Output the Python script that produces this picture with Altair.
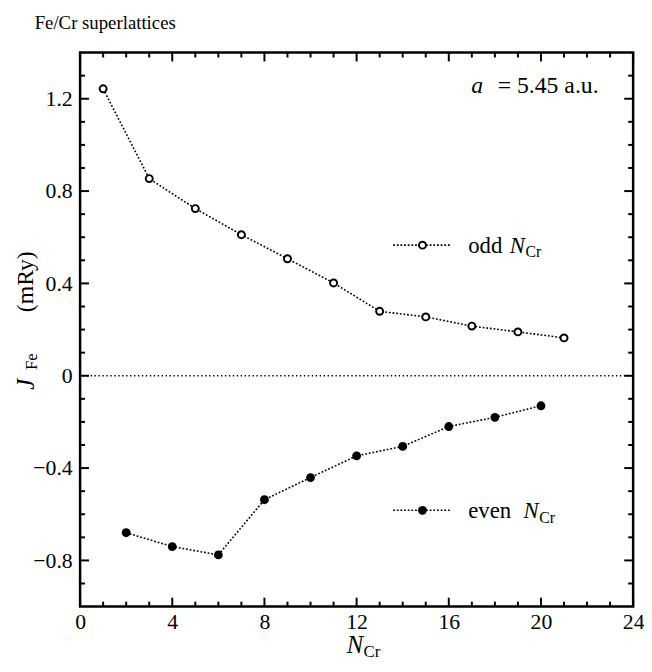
import altair as alt
import pandas as pd

SERIF = "Liberation Serif, Times New Roman, DejaVu Serif, serif"

# ---- data ----
odd_n = [1, 3, 5, 7, 9, 11, 13, 15, 17, 19, 21]
odd_j = [1.243, 0.854, 0.724, 0.611, 0.507, 0.402, 0.279, 0.255, 0.215, 0.190, 0.164]
even_n = [2, 4, 6, 8, 10, 12, 14, 16, 18, 20]
even_j = [-0.680, -0.740, -0.776, -0.537, -0.441, -0.347, -0.306, -0.220, -0.180, -0.130]

x_major = [0, 4, 8, 12, 16, 20, 24]
x_minor = [1, 2, 3, 5, 6, 7, 9, 10, 11, 13, 14, 15, 17, 18, 19, 21, 22, 23]
y_major = [-0.8, -0.4, 0.0, 0.4, 0.8, 1.2]
y_minor = [-0.9, -0.7, -0.6, -0.5, -0.3, -0.2, -0.1, 0.1, 0.2, 0.3, 0.5, 0.6, 0.7,
           0.9, 1.0, 1.1, 1.3]

W, H = 560, 561
MAJ, MIN = 9, 5

odd = pd.DataFrame({"N": odd_n, "J": odd_j})
even = pd.DataFrame({"N": even_n, "J": even_j})

xs = alt.Scale(domain=[0, 24], nice=False, zero=False)
ys = alt.Scale(domain=[-1.0, 1.4], nice=False, zero=False)

ax_x = alt.Axis(orient="bottom", values=x_major, ticks=False, domain=False, grid=False,
                labelFont=SERIF, labelFontSize=22, labelColor="black", labelPadding=5,
                labelFlush=False, format="d", title="")
ax_y = alt.Axis(orient="left", values=y_major, ticks=False, domain=False, grid=False,
                labelFont=SERIF, labelFontSize=22, labelColor="black", labelPadding=8,
                labelExpr="datum.value == 0 ? '0' : format(datum.value, '.1f')", title="")

DASH = [1.8, 1.9]

odd_line = alt.Chart(odd).mark_line(color="black", strokeWidth=1.6, strokeDash=DASH).encode(
    x=alt.X("N:Q", scale=xs, axis=ax_x),
    y=alt.Y("J:Q", scale=ys, axis=ax_y),
)
odd_pts = alt.Chart(odd).mark_point(shape="circle", filled=True, fill="white", stroke="black",
                                    strokeWidth=2, size=50, opacity=1).encode(
    x=alt.X("N:Q", scale=xs), y=alt.Y("J:Q", scale=ys))
even_line = alt.Chart(even).mark_line(color="black", strokeWidth=1.6, strokeDash=DASH).encode(
    x=alt.X("N:Q", scale=xs), y=alt.Y("J:Q", scale=ys))
even_pts = alt.Chart(even).mark_point(shape="circle", filled=True, color="black", size=80, opacity=1).encode(
    x=alt.X("N:Q", scale=xs), y=alt.Y("J:Q", scale=ys))
zero = alt.Chart(pd.DataFrame({"J": [0.0]})).mark_rule(color="black", strokeWidth=1.4, strokeDash=[1.4, 2.6]).encode(
    y=alt.Y("J:Q", scale=ys))

# inward tick marks on all four sides, drawn as ranged rules through the scales
PX_X = 24 / W
PX_Y = 2.4 / H


def xticks(vals, length):
    d = pd.DataFrame({"N": vals, "b0": [-1.0] * len(vals), "b1": [-1.0 + length * PX_Y] * len(vals),
                      "t0": [1.4] * len(vals), "t1": [1.4 - length * PX_Y] * len(vals)})
    bottom = alt.Chart(d).mark_rule(color="black", strokeWidth=2).encode(
        x=alt.X("N:Q", scale=xs), y=alt.Y("b0:Q", scale=ys), y2="b1:Q")
    top = alt.Chart(d).mark_rule(color="black", strokeWidth=2).encode(
        x=alt.X("N:Q", scale=xs), y=alt.Y("t0:Q", scale=ys), y2="t1:Q")
    return [bottom, top]


def yticks(vals, length):
    d = pd.DataFrame({"J": vals, "l0": [0.0] * len(vals), "l1": [length * PX_X] * len(vals),
                      "r0": [24.0] * len(vals), "r1": [24.0 - length * PX_X] * len(vals)})
    left = alt.Chart(d).mark_rule(color="black", strokeWidth=2).encode(
        y=alt.Y("J:Q", scale=ys), x=alt.X("l0:Q", scale=xs), x2="l1:Q")
    right = alt.Chart(d).mark_rule(color="black", strokeWidth=2).encode(
        y=alt.Y("J:Q", scale=ys), x=alt.X("r0:Q", scale=xs), x2="r1:Q")
    return [left, right]


ticks = xticks(x_major, MAJ) + xticks(x_minor, MIN) + yticks(y_major, MAJ) + yticks(y_minor, MIN)

one = alt.Data(values=[{}])


def txt(s, x, y, size=22, style="normal", angle=0, align="left", baseline="alphabetic"):
    return alt.Chart(one).mark_text(text=s, font=SERIF, fontSize=size, fontStyle=style, angle=angle,
                                    align=align, baseline=baseline, color="black").encode(
        x=alt.value(x), y=alt.value(y))


def leg_line(y):
    return alt.Chart(one).mark_rule(color="black", strokeWidth=1.6, strokeDash=DASH).encode(
        x=alt.value(317), x2=alt.value(376), y=alt.value(y))


leg_odd_pt = alt.Chart(one).mark_point(shape="circle", filled=True, fill="white", stroke="black",
                                       strokeWidth=2, size=50, opacity=1).encode(
    x=alt.value(346.7), y=alt.value(195))
leg_even_pt = alt.Chart(one).mark_point(shape="circle", filled=True, color="black", size=80, opacity=1).encode(
    x=alt.value(346.7), y=alt.value(463.5))

decor = [
    txt("Fe/Cr  superlattices", -46, -24, size=19),
    txt("a", 396, 41, size=24, style="italic"),
    txt("= 5.45   a.u.", 525, 41, size=24, align="right"),
    leg_line(195), leg_odd_pt,
    txt("odd", 393, 202.5, size=23), txt("N", 435, 202.5, size=23, style="italic"),
    txt("Cr", 451, 207.5, size=16),
    leg_line(463.5), leg_even_pt,
    txt("even", 393, 471, size=23), txt("N", 449, 471, size=23, style="italic"),
    txt("Cr", 465, 476, size=16),
    txt("N", 270, 608, size=25, style="italic"), txt("Cr", 287, 612, size=17),
    txt("J", -55, 336, size=25, style="italic", angle=270, align="center", baseline="middle"),
    txt("Fe", -49, 313, size=17, angle=270, align="center", baseline="middle"),
    txt("(mRy)", -55, 232, size=24, angle=270, align="center", baseline="middle"),
]

chart = alt.layer(*ticks, odd_line, odd_pts, even_line, even_pts, zero, *decor).properties(
    width=W, height=H,
    autosize=alt.AutoSizeParams(type="none"),
    padding={"left": 73, "top": 41, "right": 11, "bottom": 54},
    background="white",
).configure_view(stroke="black", strokeWidth=2.5)

chart.save("out.html", embed_options={"renderer": "svg", "actions": False})
